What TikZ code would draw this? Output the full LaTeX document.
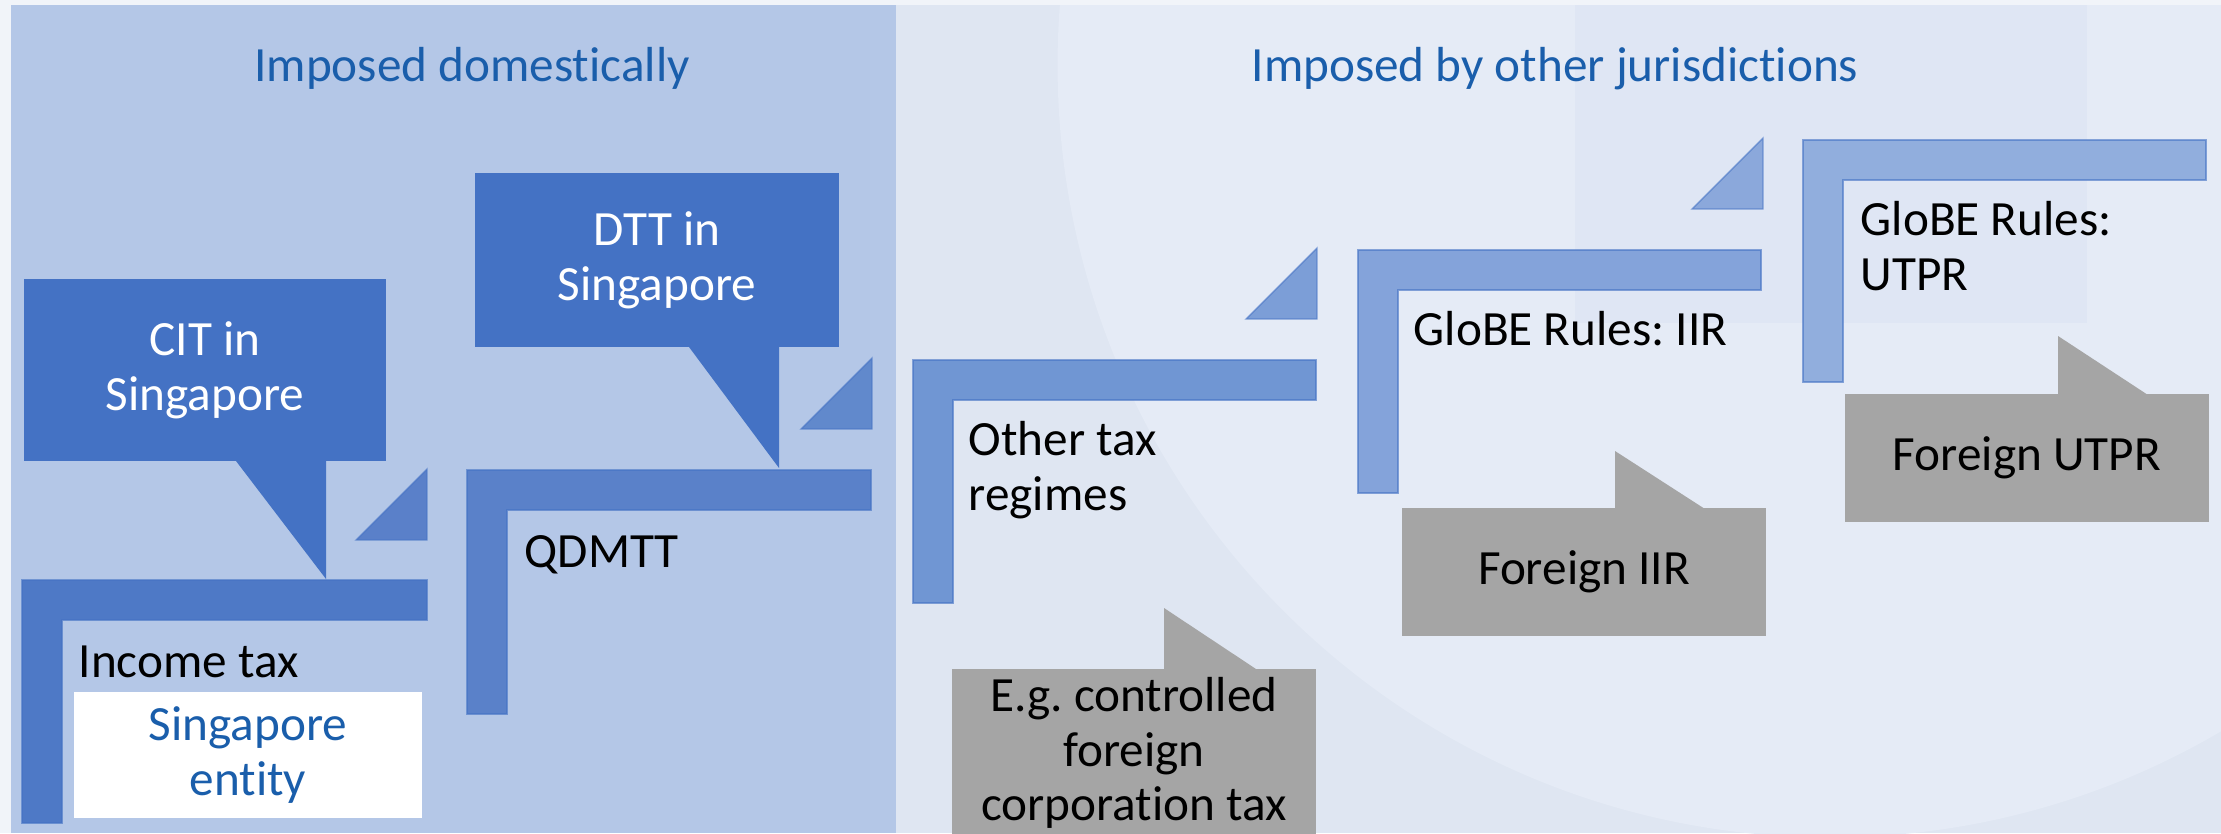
\documentclass[tikz,border=0pt]{standalone}
\usepackage{fontspec}
\setmainfont[Ligatures=NoCommon]{Carlito}
\frenchspacing

\definecolor{edgebg}{HTML}{F1F4F9}
\definecolor{farbg}{HTML}{DFE6F2}
\definecolor{circbg}{HTML}{E5EBF6}
\definecolor{panelblue}{HTML}{B4C7E7}
\definecolor{callblue}{HTML}{4472C4}
\definecolor{callgrey}{HTML}{A5A5A5}
\definecolor{headblue}{HTML}{1A5EAB}
\definecolor{stepA}{HTML}{4E79C6}
\definecolor{stepB}{HTML}{5A81C9}
\definecolor{stepC}{HTML}{7096D3}
\definecolor{stepD}{HTML}{84A3DA}
\definecolor{stepE}{HTML}{91AEDD}
\definecolor{wedgeA}{HTML}{5A80C9}
\definecolor{wedgeB}{HTML}{6189CC}
\definecolor{wedgeC}{HTML}{7C9ED7}
\definecolor{wedgeD}{HTML}{8BA8DB}

% L-shaped step: corner x, corner y, right end, bottom end, colour
\newcommand{\taxstep}[5]{%
\draw[bar=#5] (#1,#2) -- (#3,#2) -- (#3,#2+40) -- (#1+40,#2+40) -- (#1+40,#4) -- (#1,#4) -- cycle;}
% small wedge: right x, base y, colour
\newcommand{\taxwedge}[3]{%
\draw[bar=#3] (#1-71,#2) -- (#1,#2) -- (#1,#2-71) -- cycle;}

\begin{document}
\begin{tikzpicture}[x=0.01cm, y=-0.01cm,
  lbl/.style={inner sep=0pt, font=\fontsize{14}{15.6}\selectfont},
  bluebox/.style={lbl, fill=callblue, text=white, align=center},
  greybox/.style={lbl, fill=callgrey, align=center},
  bar/.style={fill=#1, draw=callblue, draw opacity=0.6, line width=0.4pt}]
\useasboundingbox (0,0) rectangle (2221,833);

% background
\fill[edgebg] (0,0) rectangle (2221,833);
\fill[farbg] (11,5) rectangle (2221,833);
\begin{scope}
\clip (896,5) rectangle (2221,833);
\fill[circbg] (1830,65) circle [radius=7.72cm];
\fill[callblue, fill opacity=0.035] (1575,5) rectangle (2087,323);
\end{scope}
\fill[panelblue] (11,5) rectangle (896,833);

\node[lbl, anchor=base, text=headblue] (domhead) at (472,81) {Imposed domestically};
\node[lbl, anchor=base, text=headblue] (forhead) at (1555,81) {Imposed by other jurisdictions};

% steps and wedges
\taxstep{22}{580}{427}{823}{stepA}
\taxstep{467}{470}{871}{714}{stepB}
\taxstep{913}{360}{1316}{603}{stepC}
\taxstep{1358}{250}{1761}{493}{stepD}
\taxstep{1803}{140}{2206}{382}{stepE}
\taxwedge{427}{540}{wedgeA}
\taxwedge{872}{429}{wedgeB}
\taxwedge{1317}{319}{wedgeC}
\taxwedge{1763}{209}{wedgeD}

\node[lbl, anchor=base west] (inctax) at (78,677) {Income tax};
\node[lbl, anchor=base west] (qdmtt) at (524,567) {QDMTT};
\node[lbl, anchor=west, align=left] (othertax) at (968,470) {Other tax\\regimes};
\node[lbl, anchor=base west] (iir) at (1413,345) {GloBE Rules: IIR};
\node[lbl, anchor=west, align=left] (utpr) at (1860,246) {GloBE Rules:\\UTPR};

\node[lbl, fill=white, text=headblue, align=center, minimum width=3.48cm, minimum height=1.25cm] (entity) at (248,755) {Singapore\\entity};

% domestic callouts
\fill[callblue] (236,461) -- (326,579) -- (326,461) -- cycle;
\node[bluebox, minimum width=3.62cm, minimum height=1.82cm] (cit) at (205,370) {CIT in\\Singapore};
\fill[callblue] (689,347) -- (779,468) -- (779,347) -- cycle;
\node[bluebox, minimum width=3.63cm, minimum height=1.73cm] (dtt) at (657,260) {DTT in\\Singapore};

% foreign callouts
\fill[callgrey] (1164,669) -- (1164,608) -- (1256,669) -- cycle;
\node[greybox, minimum width=3.63cm, minimum height=1.68cm] (cfc) at (1134,753) {E.g. controlled\\foreign\\corporation tax};
\fill[callgrey] (1615,509) -- (1615,451) -- (1705,509) -- cycle;
\node[greybox, minimum width=3.63cm, minimum height=1.28cm] (foriir) at (1584,572) {Foreign IIR};
\fill[callgrey] (2058,395) -- (2058,336) -- (2148,395) -- cycle;
\node[greybox, minimum width=3.63cm, minimum height=1.28cm] (forutpr) at (2027,458) {Foreign UTPR};
\end{tikzpicture}
\end{document}
